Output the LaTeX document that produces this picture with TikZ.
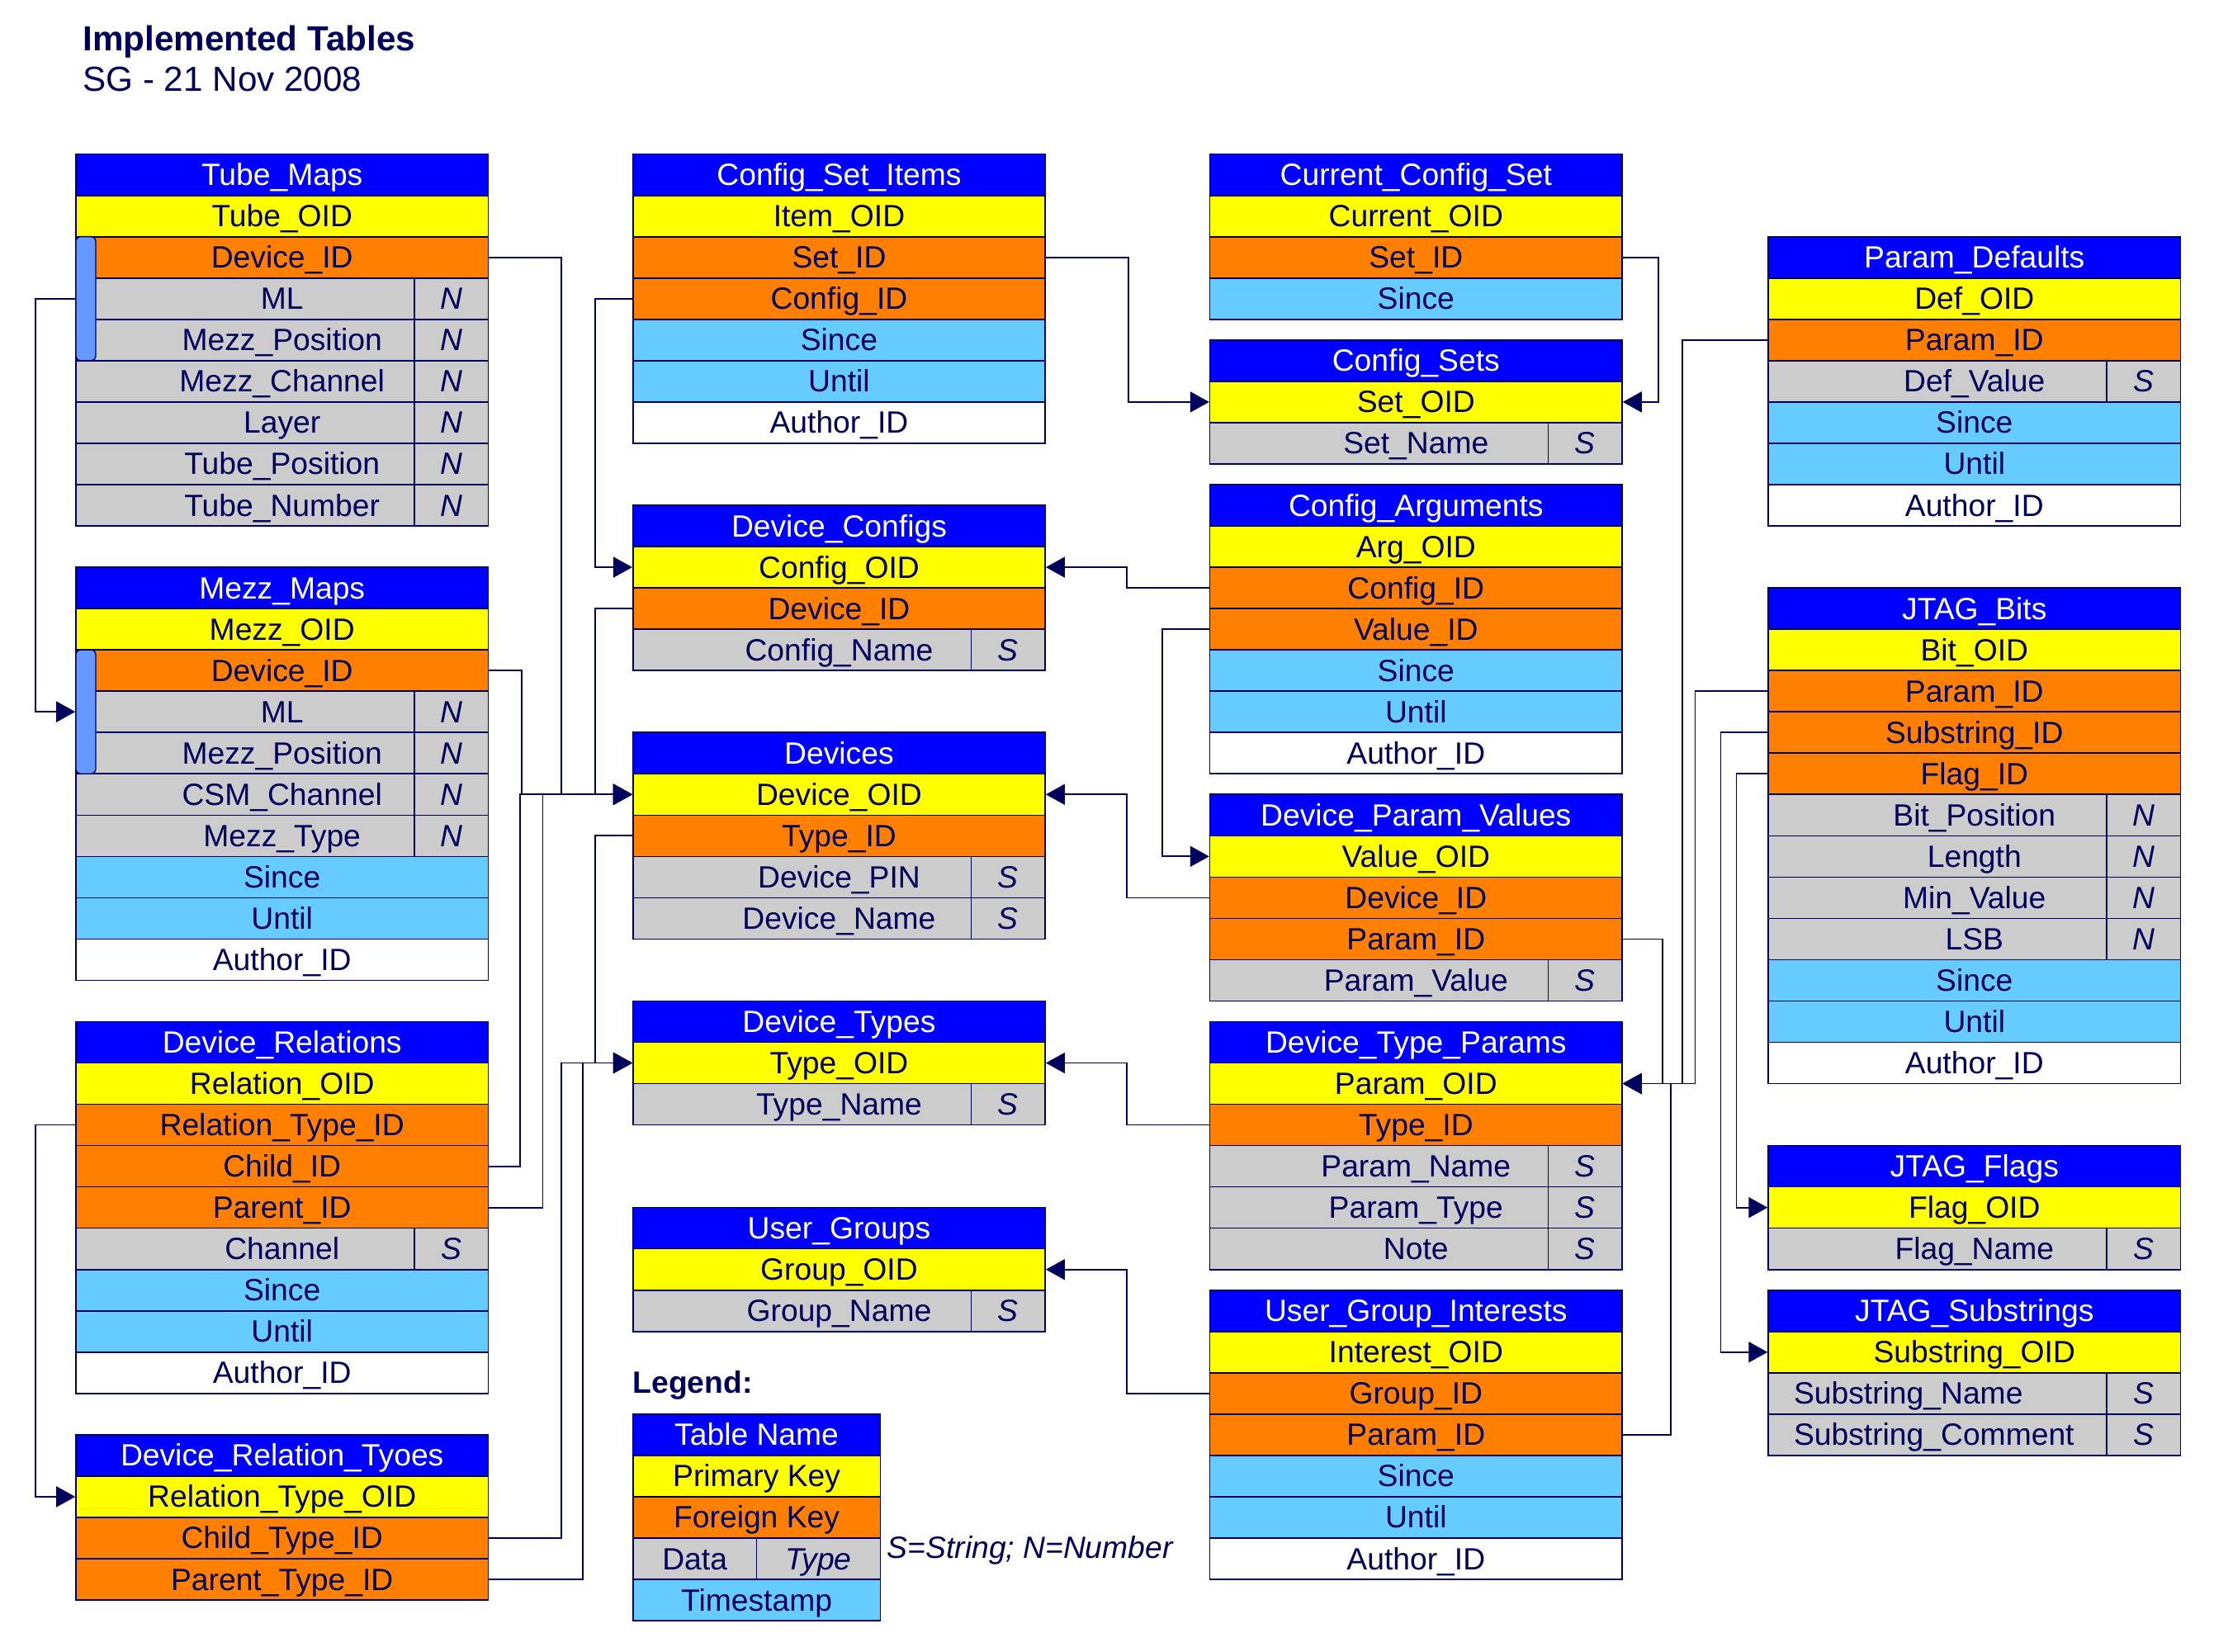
\documentclass[tikz,border=0pt]{standalone}
\usepackage{fontspec}
\setmainfont{Liberation Sans}
\usetikzlibrary{arrows.meta}
\definecolor{navy}{RGB}{0,0,92}
\definecolor{hblue}{RGB}{0,0,255}
\definecolor{pkyellow}{RGB}{255,255,0}
\definecolor{fkorange}{RGB}{255,128,0}
\definecolor{dgray}{RGB}{204,204,204}
\definecolor{tsblue}{RGB}{102,204,255}
\definecolor{barblue}{RGB}{102,153,255}
\newcommand\cellfont{\fontsize{10.6}{12}\selectfont}
% #1 name, #2 x-left, #3 row index, #4 style, #5 text, #6 type letter
\newcommand\trow[6]{\node[cell,#4,anchor=north west] (#1) at (#2,{108+(#3)*29.07}) {#5};%
  \if\relax\detokenize{#6}\relax\else\node[typ,anchor=north east] (#1t) at (#1.north east) {#6};\fi}
\begin{document}
\begin{tikzpicture}[x=0.017219cm,y=-0.017219cm,
  cell/.style={draw=navy,line width=0.45pt,inner sep=0pt,minimum width=4.9935cm,minimum height=0.50056cm,
    text=navy,font=\cellfont,text height=7.7pt,text depth=0.3pt},
  hdr/.style={fill=hblue,text=white},
  pk/.style={fill=pkyellow},
  fk/.style={fill=fkorange},
  dat/.style={fill=dgray},
  ts/.style={fill=tsblue},
  wht/.style={fill=white},
  typ/.style={cell,minimum width=0.8954cm,font=\cellfont\itshape},
  lbl/.style={inner sep=0pt,text=navy,font=\cellfont,text height=7.7pt,text depth=0.3pt},
  keybar/.style={fill=barblue,draw=navy,line width=0.4pt,rounded corners=1.5pt,inner sep=0pt,
    minimum width=0.24107cm,minimum height=1.5017cm},
  link/.style={draw=navy,line width=0.5pt},
  arr/.style={link,-{Triangle[length=0.23cm,width=0.25cm]}}
]
\useasboundingbox[fill=white] (0,0) rectangle (1568,1162);

% Title
\node[anchor=base west,inner sep=0pt,text=navy,font=\fontsize{12}{14}\selectfont\bfseries] (title) at (58,36) {Implemented Tables};
\node[anchor=base west,inner sep=0pt,text=navy,font=\fontsize{12}{14}\selectfont] (subtitle) at (58,64) {SG - 21 Nov 2008};

% ---------- Column A ----------
\trow{tm-0}{53}{0}{hdr}{Tube\_Maps}{}
\trow{tm-1}{53}{1}{pk}{Tube\_OID}{}
\trow{tm-2}{53}{2}{fk}{Device\_ID}{}
\trow{tm-3}{53}{3}{dat}{ML}{N}
\trow{tm-4}{53}{4}{dat}{Mezz\_Position}{N}
\trow{tm-5}{53}{5}{dat}{Mezz\_Channel}{N}
\trow{tm-6}{53}{6}{dat}{Layer}{N}
\trow{tm-7}{53}{7}{dat}{Tube\_Position}{N}
\trow{tm-8}{53}{8}{dat}{Tube\_Number}{N}
\node[keybar,anchor=north west] (tmbar) at (53,{108+2*29.07}) {};

\trow{mm-0}{53}{10}{hdr}{Mezz\_Maps}{}
\trow{mm-1}{53}{11}{pk}{Mezz\_OID}{}
\trow{mm-2}{53}{12}{fk}{Device\_ID}{}
\trow{mm-3}{53}{13}{dat}{ML}{N}
\trow{mm-4}{53}{14}{dat}{Mezz\_Position}{N}
\trow{mm-5}{53}{15}{dat}{CSM\_Channel}{N}
\trow{mm-6}{53}{16}{dat}{Mezz\_Type}{N}
\trow{mm-7}{53}{17}{ts}{Since}{}
\trow{mm-8}{53}{18}{ts}{Until}{}
\trow{mm-9}{53}{19}{wht}{Author\_ID}{}
\node[keybar,anchor=north west] (mmbar) at (53,{108+12*29.07}) {};

\trow{dr-0}{53}{21}{hdr}{Device\_Relations}{}
\trow{dr-1}{53}{22}{pk}{Relation\_OID}{}
\trow{dr-2}{53}{23}{fk}{Relation\_Type\_ID}{}
\trow{dr-3}{53}{24}{fk}{Child\_ID}{}
\trow{dr-4}{53}{25}{fk}{Parent\_ID}{}
\trow{dr-5}{53}{26}{dat}{Channel}{S}
\trow{dr-6}{53}{27}{ts}{Since}{}
\trow{dr-7}{53}{28}{ts}{Until}{}
\trow{dr-8}{53}{29}{wht}{Author\_ID}{}

\trow{drt-0}{53}{31}{hdr}{Device\_Relation\_Tyoes}{}
\trow{drt-1}{53}{32}{pk}{Relation\_Type\_OID}{}
\trow{drt-2}{53}{33}{fk}{Child\_Type\_ID}{}
\trow{drt-3}{53}{34}{fk}{Parent\_Type\_ID}{}

% ---------- Column B ----------
\trow{csi-0}{445}{0}{hdr}{Config\_Set\_Items}{}
\trow{csi-1}{445}{1}{pk}{Item\_OID}{}
\trow{csi-2}{445}{2}{fk}{Set\_ID}{}
\trow{csi-3}{445}{3}{fk}{Config\_ID}{}
\trow{csi-4}{445}{4}{ts}{Since}{}
\trow{csi-5}{445}{5}{ts}{Until}{}
\trow{csi-6}{445}{6}{wht}{Author\_ID}{}

\trow{dc-0}{445}{8.5}{hdr}{Device\_Configs}{}
\trow{dc-1}{445}{9.5}{pk}{Config\_OID}{}
\trow{dc-2}{445}{10.5}{fk}{Device\_ID}{}
\trow{dc-3}{445}{11.5}{dat}{Config\_Name}{S}

\trow{dv-0}{445}{14}{hdr}{Devices}{}
\trow{dv-1}{445}{15}{pk}{Device\_OID}{}
\trow{dv-2}{445}{16}{fk}{Type\_ID}{}
\trow{dv-3}{445}{17}{dat}{Device\_PIN}{S}
\trow{dv-4}{445}{18}{dat}{Device\_Name}{S}

\trow{dt-0}{445}{20.5}{hdr}{Device\_Types}{}
\trow{dt-1}{445}{21.5}{pk}{Type\_OID}{}
\trow{dt-2}{445}{22.5}{dat}{Type\_Name}{S}

\trow{ug-0}{445}{25.5}{hdr}{User\_Groups}{}
\trow{ug-1}{445}{26.5}{pk}{Group\_OID}{}
\trow{ug-2}{445}{27.5}{dat}{Group\_Name}{S}

% Legend
\node[anchor=west,inner sep=0pt,text=navy,font=\cellfont\bfseries] (legend) at (445,975) {Legend:};
\trow{lg-0}{445}{30.5}{hdr,minimum width=2.9961cm}{Table Name}{}
\trow{lg-1}{445}{31.5}{pk,minimum width=2.9961cm}{Primary Key}{}
\trow{lg-2}{445}{32.5}{fk,minimum width=2.9961cm}{Foreign Key}{}
\trow{lg-3}{445}{33.5}{dat,minimum width=1.4981cm}{Data}{}
\trow{lg-3t}{532}{33.5}{dat,minimum width=1.4981cm,font=\cellfont\itshape}{Type}{}
\trow{lg-4}{445}{34.5}{ts,minimum width=2.9961cm}{Timestamp}{}
\node[anchor=west,inner sep=0pt,text=navy,font=\cellfont\itshape] (lgnote) at (624,1091) {S=String; N=Number};

% ---------- Column C ----------
\trow{ccs-0}{851}{0}{hdr}{Current\_Config\_Set}{}
\trow{ccs-1}{851}{1}{pk}{Current\_OID}{}
\trow{ccs-2}{851}{2}{fk}{Set\_ID}{}
\trow{ccs-3}{851}{3}{ts}{Since}{}

\trow{cs-0}{851}{4.5}{hdr}{Config\_Sets}{}
\trow{cs-1}{851}{5.5}{pk}{Set\_OID}{}
\trow{cs-2}{851}{6.5}{dat}{Set\_Name}{S}

\trow{ca-0}{851}{8}{hdr}{Config\_Arguments}{}
\trow{ca-1}{851}{9}{pk}{Arg\_OID}{}
\trow{ca-2}{851}{10}{fk}{Config\_ID}{}
\trow{ca-3}{851}{11}{fk}{Value\_ID}{}
\trow{ca-4}{851}{12}{ts}{Since}{}
\trow{ca-5}{851}{13}{ts}{Until}{}
\trow{ca-6}{851}{14}{wht}{Author\_ID}{}

\trow{dpv-0}{851}{15.5}{hdr}{Device\_Param\_Values}{}
\trow{dpv-1}{851}{16.5}{pk}{Value\_OID}{}
\trow{dpv-2}{851}{17.5}{fk}{Device\_ID}{}
\trow{dpv-3}{851}{18.5}{fk}{Param\_ID}{}
\trow{dpv-4}{851}{19.5}{dat}{Param\_Value}{S}

\trow{dtp-0}{851}{21}{hdr}{Device\_Type\_Params}{}
\trow{dtp-1}{851}{22}{pk}{Param\_OID}{}
\trow{dtp-2}{851}{23}{fk}{Type\_ID}{}
\trow{dtp-3}{851}{24}{dat}{Param\_Name}{S}
\trow{dtp-4}{851}{25}{dat}{Param\_Type}{S}
\trow{dtp-5}{851}{26}{dat}{Note}{S}

\trow{ugi-0}{851}{27.5}{hdr}{User\_Group\_Interests}{}
\trow{ugi-1}{851}{28.5}{pk}{Interest\_OID}{}
\trow{ugi-2}{851}{29.5}{fk}{Group\_ID}{}
\trow{ugi-3}{851}{30.5}{fk}{Param\_ID}{}
\trow{ugi-4}{851}{31.5}{ts}{Since}{}
\trow{ugi-5}{851}{32.5}{ts}{Until}{}
\trow{ugi-6}{851}{33.5}{wht}{Author\_ID}{}

% ---------- Column D ----------
\trow{pd-0}{1244}{2}{hdr}{Param\_Defaults}{}
\trow{pd-1}{1244}{3}{pk}{Def\_OID}{}
\trow{pd-2}{1244}{4}{fk}{Param\_ID}{}
\trow{pd-3}{1244}{5}{dat}{Def\_Value}{S}
\trow{pd-4}{1244}{6}{ts}{Since}{}
\trow{pd-5}{1244}{7}{ts}{Until}{}
\trow{pd-6}{1244}{8}{wht}{Author\_ID}{}

\trow{jb-0}{1244}{10.5}{hdr}{JTAG\_Bits}{}
\trow{jb-1}{1244}{11.5}{pk}{Bit\_OID}{}
\trow{jb-2}{1244}{12.5}{fk}{Param\_ID}{}
\trow{jb-3}{1244}{13.5}{fk}{Substring\_ID}{}
\trow{jb-4}{1244}{14.5}{fk}{Flag\_ID}{}
\trow{jb-5}{1244}{15.5}{dat}{Bit\_Position}{N}
\trow{jb-6}{1244}{16.5}{dat}{Length}{N}
\trow{jb-7}{1244}{17.5}{dat}{Min\_Value}{N}
\trow{jb-8}{1244}{18.5}{dat}{LSB}{N}
\trow{jb-9}{1244}{19.5}{ts}{Since}{}
\trow{jb-10}{1244}{20.5}{ts}{Until}{}
\trow{jb-11}{1244}{21.5}{wht}{Author\_ID}{}

\trow{jf-0}{1244}{24}{hdr}{JTAG\_Flags}{}
\trow{jf-1}{1244}{25}{pk}{Flag\_OID}{}
\trow{jf-2}{1244}{26}{dat}{Flag\_Name}{S}

\trow{js-0}{1244}{27.5}{hdr}{JTAG\_Substrings}{}
\trow{js-1}{1244}{28.5}{pk}{Substring\_OID}{}
\trow{js-2}{1244}{29.5}{dat}{}{S}
\trow{js-3}{1244}{30.5}{dat}{}{S}
\node[lbl,anchor=west] (js-2l) at ([xshift=0.31cm]js-2.west) {Substring\_Name};
\node[lbl,anchor=west] (js-3l) at ([xshift=0.31cm]js-3.west) {Substring\_Comment};

% ---------- Connectors ----------
% into Devices.Device_OID
\draw[arr] (tm-2.east) -- ++(51,0) |- (dv-1.west);
\draw[arr] (mm-2.east) -- ++(23,0) |- (dv-1.west);
\draw[arr] (dr-3.east) -- ++(22,0) |- (dv-1.west);
\draw[arr] (dr-4.east) -- ++(38,0) |- (dv-1.west);
\draw[arr] (dc-2.west) -- ++(-26,0) |- (dv-1.west);
\draw[arr] (dpv-2.west) -- ++(-58,0) |- (dv-1.east);
% into Device_Configs.Config_OID
\draw[arr] (csi-3.west) -- ++(-26,0) |- (dc-1.west);
\draw[arr] (ca-2.west) -- ++(-58,0) |- (dc-1.east);
% into Device_Types.Type_OID
\draw[arr] (dv-2.west) -- ++(-26,0) |- (dt-1.west);
\draw[arr] (drt-2.east) -- ++(51,0) |- (dt-1.west);
\draw[arr] (drt-3.east) -- ++(66,0) |- (dt-1.west);
\draw[arr] (dtp-2.west) -- ++(-58,0) |- (dt-1.east);
% relation types
\draw[arr] (dr-2.west) -- ++(-28,0) |- (drt-1.west);
% tube -> mezz composite key
\draw[arr] (tmbar.west) -- ++(-28,0) |- (mmbar.west);
% config sets
\draw[arr] (csi-2.east) -- ++(58,0) |- (cs-1.west);
\draw[arr] (ccs-2.east) -- ++(25,0) |- (cs-1.east);
% values
\draw[arr] (ca-3.west) -- ++(-33,0) |- (dpv-1.west);
% user groups
\draw[arr] (ugi-2.west) -- ++(-58,0) |- (ug-1.east);
% into Device_Type_Params.Param_OID
\draw[arr] (dpv-3.east) -- ++(28,0) |- (dtp-1.east);
\draw[arr] (ugi-3.east) -- ++(34,0) |- (dtp-1.east);
\draw[arr] (pd-2.west) -- ++(-60,0) |- (dtp-1.east);
\draw[arr] (jb-2.west) -- ++(-51,0) |- (dtp-1.east);
% JTAG
\draw[arr] (jb-3.west) -- ++(-33,0) |- (js-1.west);
\draw[arr] (jb-4.west) -- ++(-22,0) |- (jf-1.west);
\end{tikzpicture}
\end{document}
